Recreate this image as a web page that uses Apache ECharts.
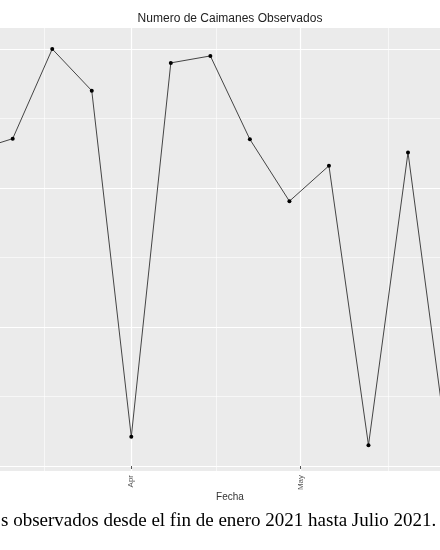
<!DOCTYPE html>
<html>
<head>
<meta charset="utf-8">
<script src="https://cdn.jsdelivr.net/npm/echarts@6/dist/echarts.min.js"></script>
<style>
html, body { margin: 0; padding: 0; background: #fff; }
#chart { width: 440px; height: 550px; }
</style>
</head>
<body>
<div id="chart"></div>
<script>
// observaciones semanales
var fechas = ['2021-03-04', '2021-03-11', '2021-03-18', '2021-03-25', '2021-04-01', '2021-04-08',
  '2021-04-15', '2021-04-22', '2021-04-29', '2021-05-06', '2021-05-13', '2021-05-20', '2021-05-27'];
var caimanes = [45.3, 47.1, 60, 54, 4.2, 58, 59, 47, 38.1, 43.2, 3, 45.1, 2.3];

// cortes del eje x (meses) y lineas menores a mitad de mes
var mesesMayor = ['2021-04-01', '2021-05-01'];
var mesesMenor = ['2021-03-16 12:00', '2021-04-16', '2021-05-16 12:00'];
var nombresMes = ['Jan', 'Feb', 'Mar', 'Apr', 'May', 'Jun', 'Jul', 'Aug', 'Sep', 'Oct', 'Nov', 'Dec'];

// cortes del eje y
var yMayor = [0, 20, 40, 60];
var yMenor = [10, 30, 50];

// rango visible
var xMin = '2021-03-08 18:00';
var xMax = '2021-05-25 16:00';
var yMin = -0.72;
var yMax = 63.02;

function t(s) { return echarts.time.parse(s).getTime(); }

var myChart = echarts.init(document.getElementById('chart'));

var datos = fechas.map(function (f, i) { return [t(f), caimanes[i]]; });

var option = {
  backgroundColor: '#fff',
  animation: false,
  title: {
    text: 'Numero de Caimanes Observados',
    left: 225,
    textAlign: 'center',
    top: 8,
    textStyle: { fontFamily: 'Liberation Sans', fontSize: 12, fontWeight: 'normal', color: '#222' }
  },
  grid: {
    left: 0, right: 0, top: 28, bottom: 79,
    show: true, backgroundColor: '#ebebeb', borderWidth: 0
  },
  xAxis: [
    {
      type: 'value',
      min: t(xMin), max: t(xMax),
      name: 'Fecha',
      nameLocation: 'middle',
      nameGap: 21,
      nameMoveOverlap: false,
      nameTextStyle: { fontFamily: 'Liberation Sans', fontSize: 10, color: '#333', padding: [0, 0, 0, 20] },
      axisLine: { show: false },
      axisTick: { show: true, length: 3, lineStyle: { color: '#555', width: 1 }, customValues: mesesMayor.map(t) },
      axisLabel: {
        rotate: 90, margin: 4, fontFamily: 'Liberation Sans', fontSize: 8, color: '#555',
        customValues: mesesMayor.map(t),
        formatter: function (v) { return nombresMes[new Date(v).getMonth()]; }
      },
      splitLine: { show: true, lineStyle: { color: '#fff', width: 1.2 } }
    },
    {
      type: 'value',
      min: t(xMin), max: t(xMax),
      axisLine: { show: false },
      axisTick: { show: false, customValues: mesesMenor.map(t) },
      axisLabel: { show: false },
      splitLine: { show: true, lineStyle: { color: '#fff', width: 0.6 } }
    }
  ],
  yAxis: [
    {
      type: 'value',
      min: yMin, max: yMax,
      axisLine: { show: false },
      axisTick: { show: false, customValues: yMayor },
      axisLabel: { show: false },
      splitLine: { show: true, lineStyle: { color: '#fff', width: 1.2 } }
    },
    {
      type: 'value',
      min: yMin, max: yMax,
      axisLine: { show: false },
      axisTick: { show: false, customValues: yMenor },
      axisLabel: { show: false },
      splitLine: { show: true, lineStyle: { color: '#fff', width: 0.6 } }
    }
  ],
  graphic: [
    {
      type: 'text',
      left: 1,
      top: 512,
      style: {
        text: 's observados desde el fin de enero 2021 hasta Julio 2021.',
        fontFamily: 'Liberation Serif',
        fontSize: 19,
        fill: '#000'
      }
    }
  ],
  series: [
    {
      name: 'Caimanes',
      type: 'line',
      data: datos,
      showSymbol: true,
      symbol: 'circle',
      symbolSize: 4,
      itemStyle: { color: '#000' },
      lineStyle: { color: '#444', width: 1 },
      clip: true
    }
  ]
};

myChart.setOption(option);
</script>
</body>
</html>
